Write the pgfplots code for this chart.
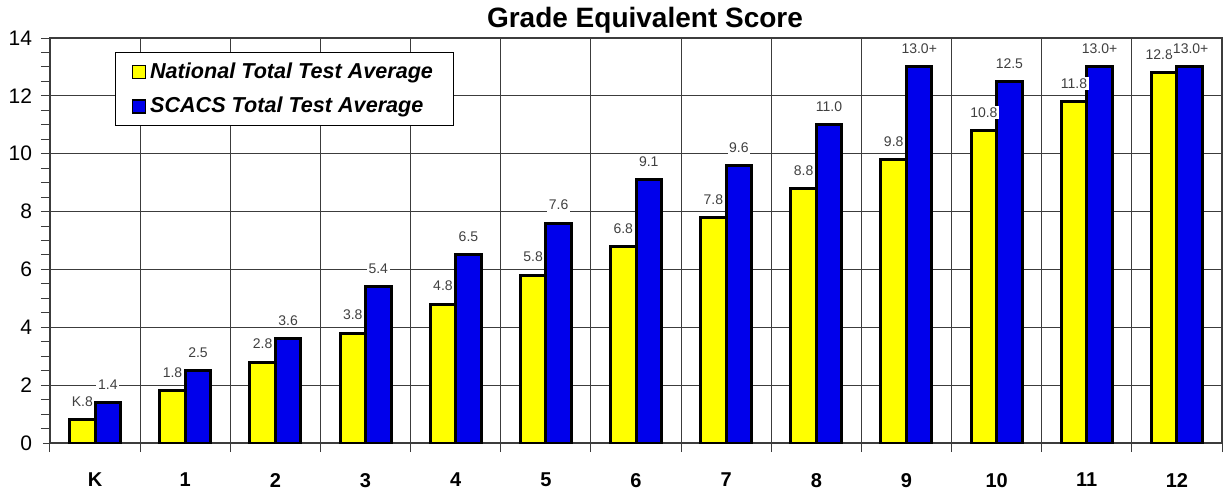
\documentclass[border=0pt]{standalone}
\usepackage{pgfplots}
\pgfplotsset{compat=1.18}
\usepackage{pgfplotstable}
\usepackage{fontspec}
\setmainfont{Liberation Sans}
\definecolor{natyel}{RGB}{255,255,0}
\definecolor{scblue}{RGB}{0,0,235}
\definecolor{gridc}{RGB}{60,60,60}

\pgfplotstableread{
x y lab dx
0 0.8 K.8 0
1 1.8 1.8 0
2 2.8 2.8 0
3 3.8 3.8 0
4 4.8 4.8 0
5 5.8 5.8 0
6 6.8 6.8 0
7 7.8 7.8 0
8 8.8 8.8 0
9 9.8 9.8 0
10 10.8 10.8 0
11 11.8 11.8 0
12 12.8 12.8 -2.5
}\national

\pgfplotstableread{
x y lab dx
0 1.4 1.4 0
1 2.5 2.5 0
2 3.6 3.6 0
3 5.4 5.4 0
4 6.5 6.5 0
5 7.6 7.6 0
6 9.1 9.1 0
7 9.6 9.6 0
8 11.0 11.0 0
9 13.0 13.0+ 0
10 12.5 12.5 0
11 13.0 13.0+ 0
12 13.0 13.0+ 0.5
}\scacs

\begin{document}
\begin{tikzpicture}
\begin{axis}[
  scale only axis,
  width=586pt, height=202.5pt,
  xmin=-0.5, xmax=12.5,
  ymin=0, ymax=14,
  ybar=0pt,
  bar width=12.75pt,
  xtick={0,...,12},
  xticklabels={K,1,2,3,4,5,6,7,8,9,10,11,12},
  minor xtick={-0.5,0.5,...,12.5},
  xminorgrids=true,
  ytick={0,2,...,14},
  minor ytick={0.5,1,...,14},
  ymajorgrids=true,
  tick align=outside,
  major x tick style={draw=none},
  minor x tick style={gridc, line width=0.5pt},
  minor tick length=4.5pt,
  major tick length=3.5pt,
  ytick pos=left,
  xtick pos=bottom,
  y tick style={gridc, line width=0.5pt},
  grid style={gridc, line width=0.5pt},
  axis line style={gridc, line width=0.6pt},
  /pgf/number format/assume math mode=true,
  yticklabel style={font=\fontsize{10.5}{12}\selectfont, xshift=-2pt},
  xticklabel style={font=\bfseries\fontsize{10}{12}\selectfont, yshift=-8pt},
  title={Grade Equivalent Score},
  title style={font=\bfseries\fontsize{14}{16}\selectfont, yshift=-7pt, xshift=4.5pt},
  legend style={at={(0.0555,0.965)}, anchor=north west, draw=black, line width=0.5pt,
    font=\bfseries\itshape\fontsize{10.8}{12}\selectfont, row sep=4pt, inner xsep=8pt, inner ysep=3pt},
  legend cell align=left,
  legend image code/.code={\draw[#1, draw=black, line width=0.8pt] (0pt,-3.25pt) rectangle (6.5pt,3.25pt);},
  point meta=explicit symbolic,
  visualization depends on={\thisrow{dx} \as \dx},
  nodes near coords,
  nodes near coords style={font=\fontsize{7}{8}\selectfont, text=black!75, fill=white, inner sep=0.8pt, anchor=south, yshift=5pt, xshift=\dx pt},
  every axis plot/.append style={draw=black, line width=1.5pt},
]
\addplot[fill=natyel] table[x=x, y=y, meta=lab] {\national};
\addplot[fill=scblue] table[x=x, y=y, meta=lab] {\scacs};
\legend{National Total Test Average, SCACS Total Test Average}
\coordinate (sw) at (rel axis cs:0,0);
\coordinate (ne) at (rel axis cs:1,1);
\end{axis}
\pgfresetboundingbox
\useasboundingbox ([xshift=-25pt,yshift=-23pt]sw) rectangle ([xshift=1pt,yshift=19pt]ne);
\end{tikzpicture}
\end{document}
